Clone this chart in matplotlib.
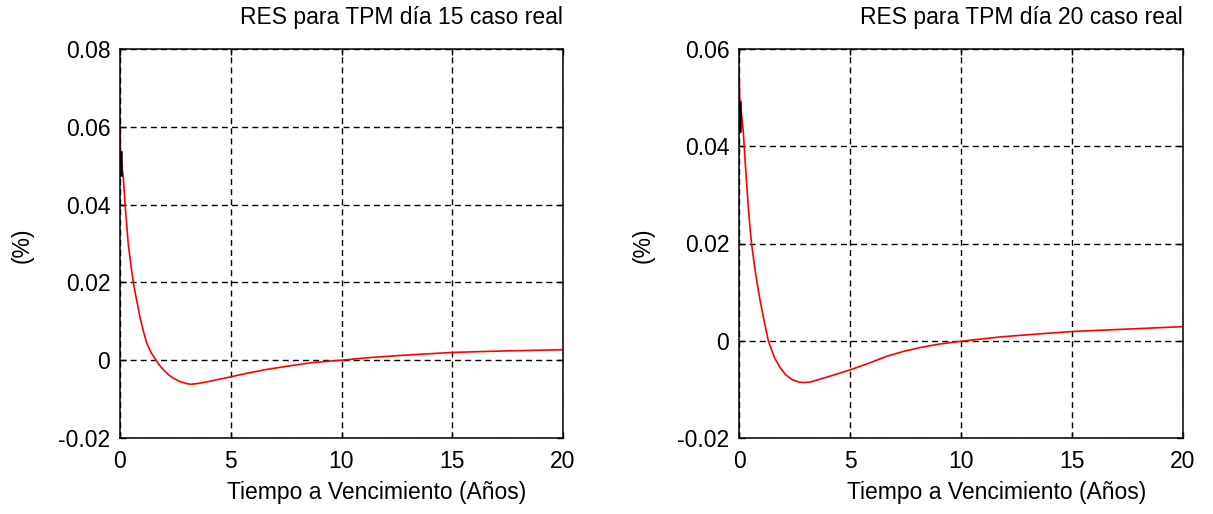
import matplotlib
matplotlib.use("Agg")
import matplotlib.pyplot as plt

plt.rcParams['font.family'] = ['Liberation Sans', 'DejaVu Sans']

# Maturity (years) and residuals (%) for the two TPM cases
x15 = [0, 0.02, 0.15, 0.23, 0.30, 0.37, 0.48, 0.60, 0.75, 0.90, 1.05, 1.20, 1.40,
       1.60, 1.8, 2.0, 2.2, 2.4, 2.7, 3.0, 3.2, 3.5, 3.9, 4.4, 4.9, 5.7, 6.6, 7.6,
       8.7, 10.0, 11.1, 12.6, 15.0, 17.5, 20.0]
res15 = [0.060, 0.053, 0.047, 0.040, 0.035, 0.030, 0.025, 0.020, 0.0155, 0.0111,
         0.0076, 0.0045, 0.0020, 0.0002, -0.0014, -0.0027, -0.0038, -0.0046, -0.0055,
         -0.0060, -0.0062, -0.0060, -0.0056, -0.0050, -0.0044, -0.0034, -0.0024,
         -0.0015, -0.0006, 0.0, 0.0006, 0.0012, 0.0020, 0.0024, 0.0027]
x15_obs = [0.03, 0.03]
res15_obs = [0.0535, 0.0476]

x20 = [0, 0.03, 0.19, 0.27, 0.35, 0.42, 0.50, 0.57, 0.68, 0.80, 0.95, 1.10, 1.32,
       1.6, 1.85, 2.1, 2.4, 2.7, 2.9, 3.2, 3.65, 4.3, 5.0, 5.8, 6.65, 7.4, 8.15,
       9.0, 10.0, 11.8, 13.5, 15.0, 17.5, 20.0]
res20 = [0.0562, 0.050, 0.0432, 0.0374, 0.032, 0.0274, 0.023, 0.0198, 0.016,
         0.0123, 0.0083, 0.0048, 0.0, -0.0035, -0.0055, -0.0070, -0.0080, -0.0085,
         -0.0086, -0.0085, -0.0079, -0.0070, -0.0060, -0.0047, -0.0032, -0.0022,
         -0.0014, -0.0007, -0.0001, 0.0008, 0.0014, 0.0019, 0.0024, 0.0029]
x20_obs = [0.03, 0.03]
res20_obs = [0.049, 0.0432]

titles = ["RES para TPM día 15 caso real", "RES para TPM día 20 caso real"]
xlabel = "Tiempo a Vencimiento (Años)"
ylabel = "(%)"
xticks = [0, 5, 10, 15, 20]
yticks15 = [-0.02, 0, 0.02, 0.04, 0.06, 0.08]
yticks20 = [-0.02, 0, 0.02, 0.04, 0.06]

fig = plt.figure(figsize=(12.13, 5.14), dpi=100)
ax1 = fig.add_axes([120 / 1213, 76 / 514, 443 / 1213, 389 / 514])
ax2 = fig.add_axes([739 / 1213, 76 / 514, 444 / 1213, 389 / 514])

panels = [
    (ax1, x15, res15, x15_obs, res15_obs, yticks15, titles[0]),
    (ax2, x20, res20, x20_obs, res20_obs, yticks20, titles[1]),
]

fs = 16.5
for ax, x, y, xo, yo, yt, title in panels:
    ax.plot(x, y, color='red', lw=1.2, zorder=3)
    ax.plot(xo, yo, color='black', lw=1.8, zorder=4)
    ax.set_xlim(0, 20)
    ax.set_ylim(yt[0], yt[-1])
    ax.set_xticks(xticks)
    ax.set_yticks(yt)
    ax.set_xticklabels([str(v) for v in xticks])
    ax.set_yticklabels(['0' if v == 0 else f"{v:g}" for v in yt])
    ax.grid(True, color='black', lw=1.0, linestyle=(0, (4.3, 3.0)))
    ax.tick_params(direction='in', length=4, width=1, labelsize=fs,
                   top=True, right=True, colors='black')
    ax.tick_params(axis='y', pad=7)
    ax.tick_params(axis='x', pad=9)
    for s in ax.spines.values():
        s.set_linewidth(1.1)
        s.set_color('black')
        s.set_zorder(5)
    ax.text(0.636, 1.0 + 32 / 389, title, transform=ax.transAxes,
            ha='center', va='center', fontsize=fs)
    ax.text(0.58, -54 / 389, xlabel, transform=ax.transAxes,
            ha='center', va='center', fontsize=fs)

fig.text(22 / 1213, 1 - 245 / 514, ylabel, rotation=90, ha='center', va='center', fontsize=fs)
fig.text(643 / 1213, 1 - 245 / 514, ylabel, rotation=90, ha='center', va='center', fontsize=fs)

fig.savefig("out.png", dpi=100, facecolor='white')
